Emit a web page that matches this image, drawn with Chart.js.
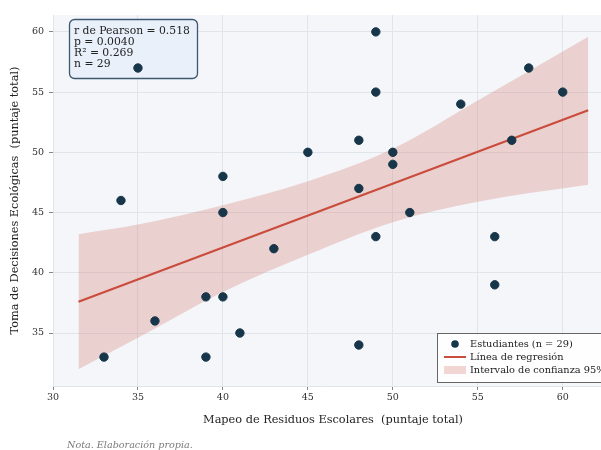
<!DOCTYPE html>
<html><head><meta charset="utf-8">
<script src="https://cdn.jsdelivr.net/npm/chart.js@4.4.0/dist/chart.umd.min.js"></script>
<style>html,body{margin:0;padding:0;background:#fff;overflow:hidden}#wrap{width:601px;height:450px;position:relative;overflow:hidden}</style>
</head><body><div id="wrap"><canvas id="c" width="607" height="450"></canvas></div>
<script>
const xTicks = [30, 35, 40, 45, 50, 55, 60];
const yTicks = [35, 40, 45, 50, 55, 60];
const studentX = [35, 49, 49, 54, 58, 60, 48, 45, 50, 50, 48, 51, 57, 49, 56, 56, 48, 34, 40, 40, 43, 39, 40, 41, 36, 33, 39];
const studentY = [57, 60, 55, 54, 57, 55, 51, 50, 50, 49, 47, 45, 51, 43, 43, 39, 34, 46, 48, 45, 42, 38, 38, 35, 36, 33, 33];
const regX = [31.5, 61.5];
const regY = [37.6, 53.5];
const bandX = [31.5, 35, 40, 45, 50, 55, 61.5];
const bandUpper = [43.2, 44.0, 45.6, 47.6, 50.3, 54.3, 59.6];
const bandLower = [32.0, 34.6, 38.4, 41.5, 44.2, 45.9, 47.3];
const statsLines = ["r de Pearson = 0.518", "p = 0.0040", "R\u00b2 = 0.269", "n = 29"];
const legendLabels = ["Estudiantes (n = 29)", "L\u00ednea de regresi\u00f3n", "Intervalo de confianza 95%"];
const xTitle = "Mapeo de Residuos Escolares  (puntaje total)";
const yTitle = "Toma de Decisiones Ecol\u00f3gicas  (puntaje total)";
const noteText = "Nota. Elaboraci\u00f3n propia.";

const SERIF = "'DejaVu Serif', serif";
const NAVY = '#17364a';
const RED = '#c94c3c';
const BAND = 'rgba(214,130,120,0.32)';

const toPts = (xs, ys) => xs.map((x, i) => ({x: x, y: ys[i]}));

const decor = {
  id: 'decor',
  beforeDraw(chart) {
    const {ctx, chartArea: a} = chart;
    ctx.save();
    ctx.fillStyle = '#f4f6fa';
    ctx.fillRect(a.left, a.top, a.right - a.left, a.bottom - a.top);
    ctx.restore();
  },
  beforeDatasetsDraw(chart) {
    const ctx = chart.ctx;
    ctx.save();
    ctx.beginPath();
    ctx.roundRect(69.5, 19.5, 128, 59, 5);
    ctx.fillStyle = '#e9f0fa';
    ctx.fill();
    ctx.lineWidth = 1.3;
    ctx.strokeStyle = '#3e5870';
    ctx.stroke();
    ctx.fillStyle = '#222';
    ctx.font = '10.8px ' + SERIF;
    ctx.textBaseline = 'middle';
    ctx.textAlign = 'left';
    statsLines.forEach((t, i) => ctx.fillText(t, 74, 31 + i * 11));
    ctx.restore();
  },
  afterDraw(chart) {
    const ctx = chart.ctx;
    ctx.save();
    // x axis title (axes box extends past the cropped right edge, so centre is offset)
    ctx.fillStyle = '#222';
    ctx.font = '11.3px ' + SERIF;
    ctx.textAlign = 'center';
    ctx.textBaseline = 'middle';
    ctx.fillText(xTitle, 333, 420);
    // legend
    ctx.fillStyle = 'rgba(255,255,255,0.9)';
    ctx.fillRect(437.5, 333.5, 200, 49);
    ctx.strokeStyle = '#666';
    ctx.lineWidth = 1;
    ctx.strokeRect(437.5, 333.5, 200, 49);
    const ys = [344, 357, 370];
    ctx.beginPath();
    ctx.arc(455, ys[0], 3.8, 0, Math.PI * 2);
    ctx.fillStyle = NAVY;
    ctx.fill();
    ctx.beginPath();
    ctx.moveTo(444, ys[1]);
    ctx.lineTo(466, ys[1]);
    ctx.strokeStyle = RED;
    ctx.lineWidth = 2;
    ctx.stroke();
    ctx.fillStyle = BAND;
    ctx.fillRect(444, ys[2] - 4, 22, 8);
    ctx.fillStyle = '#222';
    ctx.font = '9.8px ' + SERIF;
    ctx.textAlign = 'left';
    legendLabels.forEach((t, i) => ctx.fillText(t, 470, ys[i]));
    // note
    ctx.fillStyle = '#7a7a7a';
    ctx.font = 'italic 9.6px ' + SERIF;
    ctx.fillText(noteText, 67, 445);
    ctx.restore();
  }
};

new Chart(document.getElementById('c'), {
  type: 'scatter',
  data: {
    datasets: [
      {label: 'upper', data: toPts(bandX, bandUpper), showLine: true, borderWidth: 0, borderColor: 'rgba(0,0,0,0)', pointRadius: 0, fill: '+1', backgroundColor: BAND, cubicInterpolationMode: 'monotone', order: 3},
      {label: 'lower', data: toPts(bandX, bandLower), showLine: true, borderWidth: 0, borderColor: 'rgba(0,0,0,0)', pointRadius: 0, fill: false, cubicInterpolationMode: 'monotone', order: 4},
      {label: legendLabels[1], data: toPts(regX, regY), showLine: true, borderColor: RED, borderWidth: 2.2, pointRadius: 0, fill: false, order: 2},
      {label: legendLabels[0], data: toPts(studentX, studentY), backgroundColor: NAVY, borderColor: NAVY, pointRadius: 4.2, pointHoverRadius: 4.2, order: 1}
    ]
  },
  options: {
    responsive: false,
    animation: false,
    events: [],
    layout: {padding: {left: 0, right: 0, top: 15, bottom: 20}},
    plugins: {legend: {display: false}, tooltip: {enabled: false}},
    scales: {
      x: {
        type: 'linear', min: 30, max: 62.3,
        afterBuildTicks: s => { s.ticks = xTicks.map(v => ({value: v})); },
        afterFit: s => { s.height = 44; },
        grid: {color: '#e0e4eb', lineWidth: 1, drawTicks: true, tickLength: 4, tickColor: '#666', tickWidth: 0.8},
        border: {display: true, color: '#e0e4eb'},
        ticks: {font: {family: SERIF, size: 9.5}, color: '#333', padding: 2, maxRotation: 0},
        title: {display: false}
      },
      y: {
        type: 'linear', min: 30.6, max: 61.4,
        afterBuildTicks: s => { s.ticks = yTicks.map(v => ({value: v})); },
        afterFit: s => { s.width = 53; },
        grid: {color: '#e0e4eb', lineWidth: 1, drawTicks: true, tickLength: 4, tickColor: '#666', tickWidth: 0.8},
        border: {display: true, color: '#e0e4eb'},
        ticks: {font: {family: SERIF, size: 9.5}, color: '#333', padding: 5},
        title: {display: true, text: yTitle, font: {family: SERIF, size: 11.3}, color: '#222', padding: {top: 8, bottom: 0}}
      }
    }
  },
  plugins: [decor]
});
</script>
</body></html>
